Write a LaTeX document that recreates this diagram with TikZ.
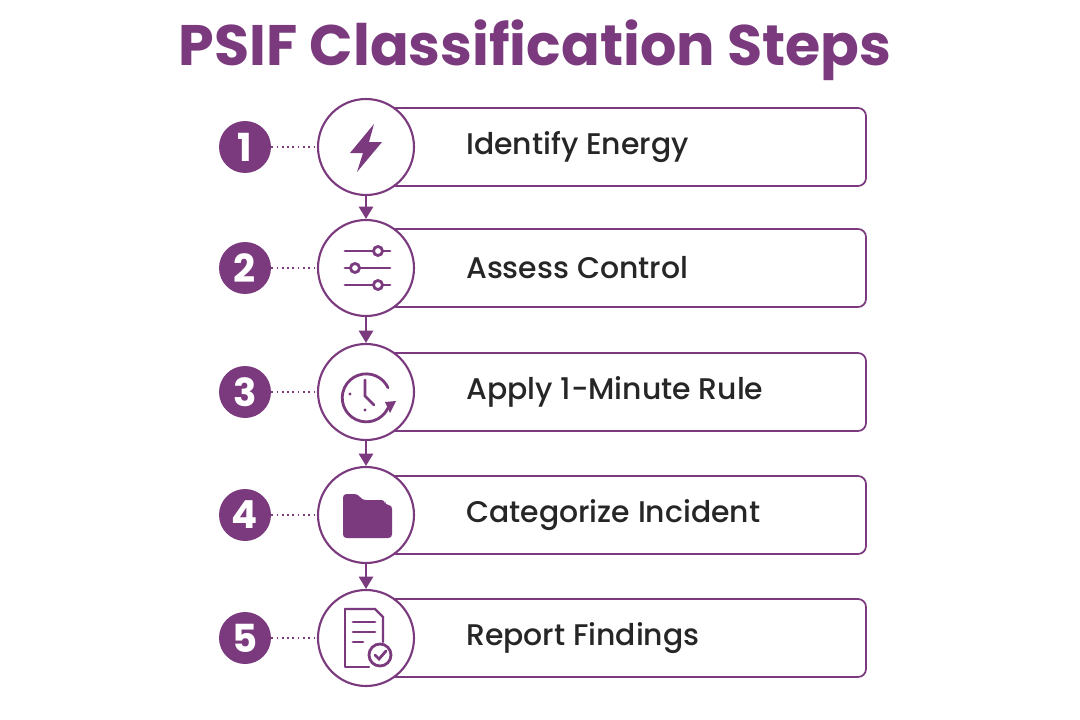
\documentclass[tikz,border=0pt]{standalone}
\usepackage{fontspec}
\setmainfont{Poppins}
\newfontfamily\medfont{Poppins Medium}
\usetikzlibrary{arrows.meta,positioning}
\definecolor{psif}{HTML}{7B3A7E}
\newlength{\px}\setlength{\px}{0.02cm}
\tikzset{
  badge/.style={circle,fill=psif,minimum size=52\px,inner sep=0pt,text=white,font=\fontsize{22}{22}\selectfont\bfseries},
  ring/.style={circle,draw=psif,line width=1.2pt,fill=white,minimum size=96\px,inner sep=0pt},
  stepbox/.style={draw=psif,line width=1pt,rounded corners=8\px},
  steplabel/.style={anchor=west,font=\fontsize{17}{17}\selectfont\medfont,text=black!85},
  icon/.style={psif,line width=1.6pt,line cap=round},
}
\begin{document}
\begin{tikzpicture}[x=0.02cm,y=-0.02cm]
\useasboundingbox (0,0) rectangle (1080,720);
\node (title) at (535,50) {\fontsize{32.5}{32}\selectfont\bfseries\color{psif}PSIF Classification Steps};
% steps
\foreach \i/\y/\txt in {1/147/Identify Energy,2/268/Assess Control,3/392/Apply 1-Minute Rule,4/515/Categorize Incident,5/638/Report Findings}{
  \draw[stepbox] (366,\y-39) rectangle (866,\y+39);
  \node[ring] (c\i) at (366,\y) {};
  \node[badge] (b\i) at (245,\y) {\i};
  \draw[psif,line width=1pt,dotted] (b\i) -- (c\i);
  \node[steplabel] (t\i) at (460,\y) {\txt};
}
\foreach \a/\b in {1/2,2/3,3/4,4/5}
  \draw[psif,line width=1.5pt,-{Triangle[length=7pt,width=8pt]}] (c\a) -- (c\b);
% icons
\fill[psif] (374,124) -- (350,153) -- (363,153) -- (357,172) -- (382,142) -- (369,142) -- cycle;
\foreach \yy/\xx in {-17/378,0/355,17/378}{
  \draw[icon] (345,268+\yy) -- (390,268+\yy);
  \draw[psif,line width=1.6pt,fill=white] (\xx,268+\yy) circle (4.5);
}
\draw[icon] (388,408) arc (25:335:24);
\fill[psif] (385,402) -- (396,401) -- (390,413) -- cycle;
\draw[icon] (365,380) -- (365,396) -- (374,405);
\fill[psif] (350,394) circle (1.6) (365,410) circle (1.6);
\fill[psif,rounded corners=2] (343,494) -- (358,494) -- (362,500) -- (385,500) -- (385,505) -- (392,505) -- (392,538) -- (343,538) -- cycle;
\draw[icon,line width=1.4pt,line join=round] (345,609) -- (375,609) -- (383,617) -- (383,642);
\draw[icon,line width=1.4pt,line join=round] (369,667) -- (345,667) -- (345,609);
\draw[icon] (353,622) -- (375,622) (353,632) -- (375,632) (353,642) -- (363,642);
\draw[psif,line width=1.6pt,fill=white] (380,655) circle (11);
\draw[icon] (375,655) -- (379,659) -- (386,651);
\end{tikzpicture}
\end{document}
